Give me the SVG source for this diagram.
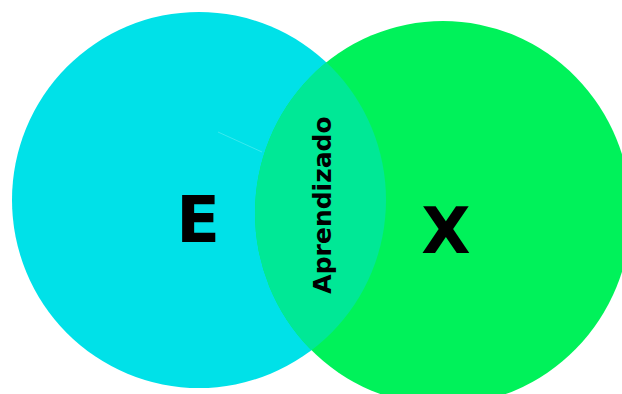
<svg xmlns="http://www.w3.org/2000/svg" width="622" height="394" viewBox="0 0 622 394">
  <style>
    .lbl { font-family: "DejaVu Sans", "Liberation Sans", sans-serif; font-weight: bold; fill: #000; text-anchor: middle; }
    .big { font-size: 64px; }
    .mid { font-size: 25px; }
  </style>
  <defs>
    <clipPath id="clipE">
      <ellipse cx="199" cy="200" rx="187" ry="188"/>
    </clipPath>
  </defs>
  <rect width="622" height="394" fill="#ffffff"/>
  <g id="node-E">
    <ellipse cx="199" cy="200" rx="187" ry="188" fill="#00E1E8"/>
    <line x1="218" y1="132" x2="262" y2="152" stroke="#5FEFF2" stroke-width="1" opacity="0.6"/>
  </g>
  <g id="node-X">
    <ellipse cx="443" cy="213" rx="188" ry="192" fill="#00F25A"/>
  </g>
  <g id="node-Aprendizado">
    <ellipse cx="443" cy="213" rx="188" ry="192" fill="#00E896" clip-path="url(#clipE)"/>
  </g>
  <g id="connectors"></g>
  <g id="labels">
    <text class="lbl big" x="198" y="242">E</text>
    <text class="lbl big" x="446" y="253">X</text>
    <text class="lbl mid" transform="translate(331,205) rotate(-90)" x="0" y="0">Aprendizado</text>
  </g>
</svg>
